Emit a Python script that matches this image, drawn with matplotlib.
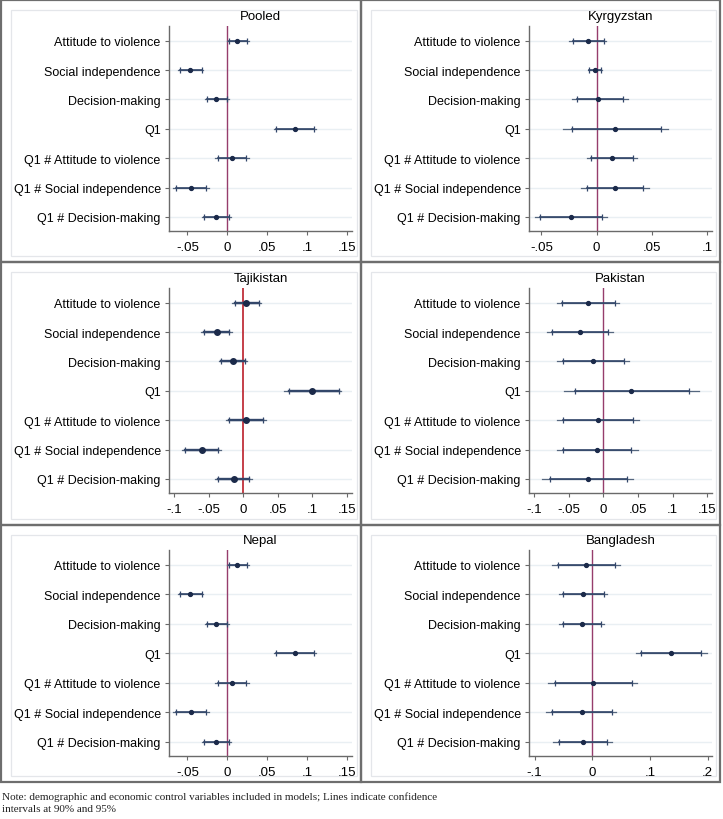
import matplotlib.pyplot as plt
from matplotlib.patches import Rectangle

plt.rcParams['font.family'] = ['Liberation Sans', 'DejaVu Sans']

labels = ['Attitude to violence', 'Social independence', 'Decision-making', 'Q1',
          'Q1 # Attitude to violence', 'Q1 # Social independence', 'Q1 # Decision-making']

# point estimates and confidence intervals
pooled_coef = [0.0126, -0.0461, -0.0138, 0.085, 0.0059, -0.0452, -0.0147]
pooled_ci90 = [(0.0017, 0.0247), (-0.0595, -0.0322), (-0.0251, -0.0004), (0.0611, 0.108),
               (-0.0117, 0.023), (-0.0637, -0.0268), (-0.0293, 0.0017)]
pooled_ci95 = [(-0.0005, 0.027), (-0.062, -0.030), (-0.0275, 0.002), (0.058, 0.111),
               (-0.015, 0.0265), (-0.0675, -0.023), (-0.032, 0.0047)]

kyrgyz_coef = [-0.0082, -0.0018, 0.0009, 0.017, 0.0136, 0.0167, -0.0236]
kyrgyz_ci90 = [(-0.0212, 0.0064), (-0.0067, 0.0039), (-0.018, 0.0242), (-0.0227, 0.0582),
               (-0.0052, 0.0333), (-0.0091, 0.0418), (-0.051, 0.0045)]
kyrgyz_ci95 = [(-0.0246, 0.0082), (-0.0077, 0.005), (-0.022, 0.028), (-0.0303, 0.0643),
               (-0.009, 0.037), (-0.0142, 0.0475), (-0.056, 0.0097)]

tajik_coef = [0.0048, -0.0382, -0.015, 0.0995, 0.0039, -0.0594, -0.013]
tajik_ci90 = [(-0.0121, 0.0232), (-0.057, -0.0203), (-0.0314, 0.0024), (0.0657, 0.1377),
              (-0.0203, 0.028), (-0.0836, -0.0362), (-0.0362, 0.0087)]
tajik_ci95 = [(-0.0155, 0.0252), (-0.0605, -0.016), (-0.0345, 0.0055), (0.059, 0.141),
              (-0.025, 0.0325), (-0.088, -0.032), (-0.0405, 0.013)]

pakistan_coef = [-0.0218, -0.034, -0.015, 0.0403, -0.008, -0.009, -0.0223]
pakistan_ci90 = [(-0.0597, 0.0165), (-0.0747, 0.0068), (-0.0587, 0.0301), (-0.0407, 0.1232),
                 (-0.058, 0.042), (-0.058, 0.040), (-0.0771, 0.0335)]
pakistan_ci95 = [(-0.067, 0.0228), (-0.0815, 0.0141), (-0.067, 0.0373), (-0.0572, 0.1387),
                 (-0.068, 0.052), (-0.068, 0.050), (-0.0888, 0.0432)]

nepal_coef = [0.0126, -0.0461, -0.0138, 0.085, 0.0059, -0.0452, -0.0147]
nepal_ci90 = [(0.0017, 0.0247), (-0.0595, -0.0322), (-0.0251, -0.0004), (0.0611, 0.108),
              (-0.0117, 0.023), (-0.0637, -0.0268), (-0.0293, 0.0017)]
nepal_ci95 = [(-0.0005, 0.027), (-0.062, -0.030), (-0.0275, 0.002), (0.058, 0.111),
              (-0.015, 0.0265), (-0.0675, -0.023), (-0.032, 0.0047)]

bangla_coef = [-0.011, -0.0157, -0.0186, 0.1362, 0.0017, -0.0186, -0.0168]
bangla_ci90 = [(-0.0597, 0.040), (-0.0504, 0.0203), (-0.0504, 0.0157), (0.0847, 0.1886),
               (-0.0638, 0.0684), (-0.069, 0.0348), (-0.058, 0.026)]
bangla_ci95 = [(-0.069, 0.0487), (-0.058, 0.026), (-0.058, 0.0197), (0.0754, 0.199),
               (-0.0765, 0.0783), (-0.0795, 0.0412), (-0.0679, 0.0336)]

W, H = 723, 820
fig = plt.figure(figsize=(W / 100, H / 100), dpi=100)


def px_axes(x0, y0, x1, y1):
    return fig.add_axes([x0 / W, 1 - y1 / H, (x1 - x0) / W, (y1 - y0) / H])


def coef_panel(ax, title, coef, ci90, ci95, xlim, xticks, xticklabels, bold=False):
    n = len(labels)
    ys = list(range(1, n + 1))
    zcol = '#c0303a' if bold else '#963d6c'
    lw90 = 1.7 if bold else 1.2
    ms = 4.0 if bold else 2.8
    for y in ys:
        ax.axhline(y, color='#e9eff3', lw=1.0, zorder=0)
    ax.axvline(0, color=zcol, lw=1.3 if bold else 1.0, zorder=1)
    for y, b, c9, c5 in zip(ys, coef, ci90, ci95):
        ax.plot(c5, [y, y], color='#55677f', lw=0.9, zorder=2)
        ax.plot(c9, [y, y], color='#33476a', lw=lw90, zorder=3)
        ax.plot(c9, [y, y], ls='none', marker='|', ms=5, mew=0.9,
                color='#33476a', zorder=3)
        ax.plot(b, y, marker='o', ms=ms, color='#1b2a4a', mec='#1b2a4a', zorder=4)
    ax.set_ylim(n + 0.48, 0.5)
    ax.set_xlim(*xlim)
    ax.set_yticks(ys)
    ax.set_yticklabels(labels, fontsize=9)
    ax.set_xticks(xticks)
    ax.set_xticklabels(xticklabels, fontsize=9.5)
    for s in ('top', 'right'):
        ax.spines[s].set_visible(False)
    for s in ('left', 'bottom'):
        ax.spines[s].set_color('#6a6a6a')
        ax.spines[s].set_linewidth(1.0)
    ax.tick_params(axis='both', length=3, width=0.8, color='#6a6a6a', pad=3)
    ax.tick_params(axis='x', pad=4)
    ax.set_facecolor('none')
    ax.annotate(title, xy=(0.5, 1), xycoords='axes fraction', xytext=(0, 7.5),
                textcoords='offset points', ha='center', va='center', fontsize=9.5)


# cell frames
cells_x = [(1, 361), (361, 720)]
cells_y = [(1, 263), (263, 526), (526, 783)]
for (cy0, cy1) in cells_y:
    for (cx0, cx1) in cells_x:
        fig.add_artist(Rectangle(((cx0 + 10) / W, 1 - (cy1 - 6) / H),
                                 (cx1 - cx0 - 14) / W, (cy1 - cy0 - 16) / H,
                                 transform=fig.transFigure, fill=False,
                                 ec='#e4e6ea', lw=0.9, zorder=0))
        fig.add_artist(Rectangle((cx0 / W, 1 - cy1 / H), (cx1 - cx0) / W,
                                 (cy1 - cy0) / H, transform=fig.transFigure,
                                 fill=False, ec='#6e6e6e', lw=1.6, zorder=5))

ax1 = px_axes(169, 27, 352, 232)
coef_panel(ax1, 'Pooled', pooled_coef, pooled_ci90, pooled_ci95, (-0.073, 0.156),
           [-0.05, 0, 0.05, 0.1, 0.15], ['-.05', '0', '.05', '.1', '.15'])

ax2 = px_axes(529, 27, 712, 232)
coef_panel(ax2, 'Kyrgyzstan', kyrgyz_coef, kyrgyz_ci90, kyrgyz_ci95, (-0.0612, 0.1045),
           [-0.05, 0, 0.05, 0.1], ['-.05', '0', '.05', '.1'])

ax3 = px_axes(169, 289, 352, 494)
coef_panel(ax3, 'Tajikistan', tajik_coef, tajik_ci90, tajik_ci95, (-0.107, 0.157),
           [-0.1, -0.05, 0, 0.05, 0.1, 0.15], ['-.1', '-.05', '0', '.05', '.1', '.15'],
           bold=True)

ax4 = px_axes(529, 289, 712, 494)
coef_panel(ax4, 'Pakistan', pakistan_coef, pakistan_ci90, pakistan_ci95, (-0.1078, 0.157),
           [-0.1, -0.05, 0, 0.05, 0.1, 0.15], ['-.1', '-.05', '0', '.05', '.1', '.15'])

ax5 = px_axes(169, 551, 352, 757)
coef_panel(ax5, 'Nepal', nepal_coef, nepal_ci90, nepal_ci95, (-0.073, 0.156),
           [-0.05, 0, 0.05, 0.1, 0.15], ['-.05', '0', '.05', '.1', '.15'])

ax6 = px_axes(529, 551, 712, 757)
coef_panel(ax6, 'Bangladesh', bangla_coef, bangla_ci90, bangla_ci95, (-0.1096, 0.2075),
           [-0.1, 0, 0.1, 0.2], ['-.1', '0', '.1', '.2'])

note = ('Note: demographic and economic control variables included in models; Lines indicate confidence\n'
        'intervals at 90% and 95%')
fig.text(2 / W, 1 - 792 / H, note, ha='left', va='top', fontsize=8.0,
         family=['Liberation Serif', 'DejaVu Serif'], color='#222222', linespacing=1.5)

fig.savefig('out.png', dpi=100, facecolor='white')
